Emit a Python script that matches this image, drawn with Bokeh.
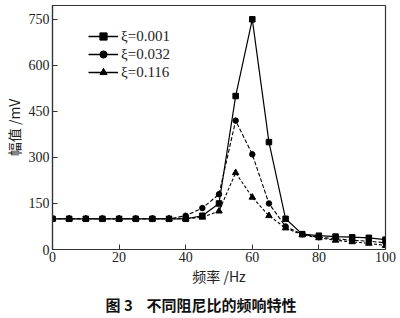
from bokeh.plotting import figure
from bokeh.models import Range1d, FixedTicker, Legend, LegendItem, Title
from bokeh.embed import file_html
from bokeh.resources import INLINE

freq = [0, 5, 10, 15, 20, 25, 30, 35, 40, 45, 50, 55, 60, 65, 70, 75, 80, 85, 90, 95, 100]
amp_001 = [100, 100, 100, 100, 100, 100, 100, 100, 100, 110, 150, 500, 750, 350, 100, 50, 45, 42, 40, 38, 32]
amp_032 = [100, 100, 100, 100, 100, 100, 100, 100, 110, 135, 180, 420, 310, 150, 75, 50, 40, 35, 30, 27, 22]
amp_116 = [100, 100, 100, 100, 100, 100, 100, 100, 100, 105, 125, 250, 170, 110, 70, 48, 38, 30, 25, 20, 13]
labels = ["ξ=0.001", "ξ=0.032", "ξ=0.116"]
x_ticks = [0, 20, 40, 60, 80, 100]
y_ticks = [0, 150, 300, 450, 600, 750]

SERIF = "Liberation Serif"
CJK = "Noto Sans CJK SC"
NAN = float("nan")

p = figure(width=400, height=318, output_backend="svg", toolbar_location=None,
           x_range=Range1d(0, 100), y_range=Range1d(0, 795),
           min_border_left=51, min_border_right=15, min_border_top=5, min_border_bottom=69)
p.background_fill_color = "white"
p.border_fill_color = "white"
p.grid.visible = False
p.outline_line_color = "#333333"
p.outline_line_width = 1.2

for ax in (p.xaxis[0], p.yaxis[0]):
    ax.major_tick_in = 5
    ax.major_tick_out = 0
    ax.minor_tick_in = 0
    ax.minor_tick_out = 0
    ax.axis_line_color = "#333333"
    ax.axis_line_width = 1.2
    ax.major_tick_line_color = "#333333"
    ax.major_label_text_font = SERIF
    ax.major_label_text_font_size = "14px"
    ax.major_label_text_color = "#222222"
    ax.axis_label_text_font = CJK
    ax.axis_label_text_font_size = "14px"
    ax.axis_label_text_font_style = "normal"
    ax.axis_label_text_color = "#222222"

p.xaxis.ticker = FixedTicker(ticks=x_ticks)
p.yaxis.ticker = FixedTicker(ticks=y_ticks)
p.xaxis.axis_label = "频率 /Hz"
p.yaxis.axis_label = "幅值 /mV"
p.xaxis.major_label_standoff = 2
p.xaxis.axis_label_standoff = 1
p.yaxis.major_label_standoff = 3
p.yaxis.axis_label_standoff = 2

p.line(freq, amp_001, line_color="black", line_width=1.2)
p.scatter(freq, amp_001, marker="square", size=5.5, color="black")
p.line(freq, amp_032, line_color="black", line_width=1.1, line_dash="4 2")
p.scatter(freq, amp_032, marker="circle", size=5.5, color="black")
p.line(freq, amp_116, line_color="black", line_width=1.1, line_dash="3 2")
p.scatter(freq, amp_116, marker="triangle", size=6.5, color="black")

# legend glyphs drawn solid as in the reference
lg = []
for mk, sz in (("square", 6.5), ("circle", 7.5), ("triangle", 7.5)):
    ln = p.line([NAN], [NAN], line_color="black", line_width=1.5)
    sc = p.scatter([NAN], [NAN], marker=mk, size=sz, color="black")
    lg.append([ln, sc])

legend = Legend(items=[LegendItem(label=labels[i], renderers=lg[i]) for i in range(3)],
                location=(36, 168), orientation="vertical",
                background_fill_alpha=0, border_line_alpha=0,
                label_text_font=SERIF, label_text_font_size="15px",
                label_text_color="#222222",
                glyph_width=30, glyph_height=18, label_height=18,
                spacing=0, padding=0, margin=0, label_standoff=3)
p.add_layout(legend, "center")

cap = Title(text="图 3\u00a0\u00a0\u00a0\u00a0不同阻尼比的频响特性", align="left",
            text_font=CJK, text_font_size="15px", text_font_style="bold",
            text_color="#111111", offset=53, standoff=6)
p.add_layout(cap, "below")

open("out.html", "w").write(file_html(p, INLINE))
